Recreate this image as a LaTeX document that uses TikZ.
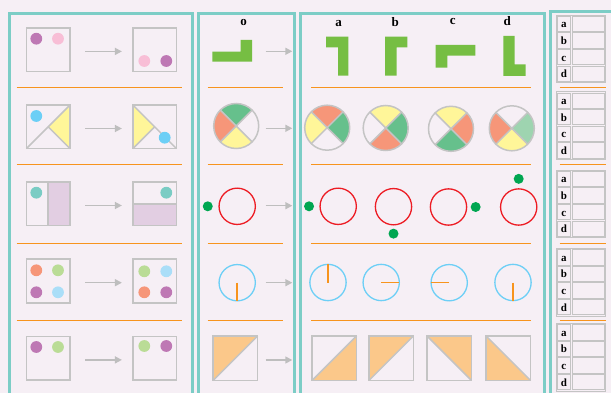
\documentclass[tikz,border=0pt]{standalone}
\usepackage{fontspec}
\setmainfont{Liberation Serif}
\usetikzlibrary{arrows.meta,positioning,backgrounds}
\definecolor{pagebg}{RGB}{246,239,245}
\definecolor{framet}{RGB}{124,205,198}
\definecolor{sepor}{RGB}{247,148,29}
\definecolor{boxgray}{RGB}{196,196,196}
\definecolor{arrgray}{RGB}{190,190,190}
\definecolor{dpurple}{RGB}{190,120,180}
\definecolor{dpink}{RGB}{248,190,214}
\definecolor{dblue}{RGB}{108,207,246}
\definecolor{dteal}{RGB}{122,204,196}
\definecolor{lav}{RGB}{226,206,226}
\definecolor{salmon}{RGB}{246,150,121}
\definecolor{lgreen}{RGB}{186,220,150}
\definecolor{lblue}{RGB}{170,222,248}
\definecolor{yel}{RGB}{255,246,153}
\definecolor{wgreen}{RGB}{102,192,140}
\definecolor{pgreen}{RGB}{158,212,176}
\definecolor{ringred}{RGB}{237,28,36}
\definecolor{dotgreen}{RGB}{0,166,81}
\definecolor{clockblue}{RGB}{109,207,246}
\definecolor{peach}{RGB}{251,200,138}
\definecolor{tetgreen}{RGB}{118,190,67}

\begin{document}
\begin{tikzpicture}[
  x=1pt, y=1pt,
  panel/.style={draw=framet, line width=3pt},
  sep/.style={draw=sepor, line width=1.3pt},
  box/.style={draw=boxgray, line width=1.5pt, minimum size=43.6pt,
    inner sep=0pt, outer sep=0pt},
  gline/.style={draw=boxgray, line width=1.5pt},
  arr/.style={-{Triangle[length=7pt,width=7pt]}, line width=1.5pt, arrgray},
  wheel/.style={circle, draw=boxgray, line width=1.5pt, minimum size=45pt,
    inner sep=0pt, outer sep=0pt},
  ring/.style={circle, draw=ringred, line width=1.3pt, minimum size=36.3pt,
    inner sep=0pt, outer sep=0pt},
  gdot/.style={circle, fill=dotgreen, minimum size=10pt, inner sep=0pt, outer sep=0pt},
  clock/.style={circle, draw=clockblue, line width=1.3pt, minimum size=36.3pt,
    inner sep=0pt, outer sep=0pt},
  hand/.style={draw=sepor, line width=1.5pt},
  tri/.style={box, minimum size=44.5pt},
  tet/.style={fill=tetgreen},
  lbl/.style={anchor=base, font=\bfseries\fontsize{13}{13}\selectfont},
  lcell/.style={draw=boxgray, line width=0.8pt, minimum width=13.6pt,
    minimum height=15.3pt, inner sep=0pt, outer sep=0pt,
    text height=8pt, text depth=0pt, font=\bfseries\fontsize{11}{11}\selectfont},
  vcell/.style={lcell, minimum width=32.2pt}
]
\begin{scope}[on background layer]
  \fill[pagebg] (0,0) rectangle (611,-393);
\end{scope}
\useasboundingbox (0,0) rectangle (611,-393);
\clip (0,0) rectangle (611,-393);

\draw[panel] (9.5,-13.3) rectangle (192.5,-400);
\draw[panel] (198,-13.3) rectangle (294.5,-400);
\draw[panel] (300.5,-13.3) rectangle (544,-400);
\draw[panel] (550,-12) rectangle (620,-400);
\foreach \y in {87.3,164.3,243.3,320.3}{
  \draw[sep] (16.7,-\y) -- (182,-\y);
  \draw[sep] (207.7,-\y) -- (282.7,-\y);
  \draw[sep] (311,-\y) -- (530.7,-\y);
  \draw[sep] (559.7,-\y) -- (606,-\y);
}

\foreach \rw/\y in {1/49.7,2/126.8,3/203.8,4/281,5/358.2}{
  \node[box] (in\rw) at (48.2,-\y) {};
  \node[box] (out\rw) at (154.7,-\y) {};
  \draw[arr, shorten <=15pt, shorten >=11pt]
    ([yshift=-1.7pt]in\rw.east) -- ([yshift=-1.7pt]out\rw.west);
}
\draw[gline] (in2.south west) -- (in2.north east) (in2.center) -- (in2.south east);
\draw[gline] (out2.north west) -- (out2.south east) (out2.center) -- (out2.south west);
\draw[gline] (in3.north) -- (in3.south);
\draw[gline] (out3.west) -- (out3.east);
\foreach \x/\y/\c in {36.3/38.7/dpurple, 58/38.7/dpink, 144.3/61/dpink, 166.3/61/dpurple,
    36.3/116/dblue, 164.7/137.7/dblue, 36.3/192.7/dteal, 166.3/192.7/dteal,
    36.3/270.3/salmon, 58/270.3/lgreen, 36.3/292.3/dpurple, 58/292.3/lblue,
    144.3/271.3/lgreen, 166.3/271.3/lblue, 144.3/292.3/salmon, 166.3/292.3/dpurple,
    36.3/347/dpurple, 58/347/lgreen, 144.3/346/lgreen, 166.3/346/dpurple}
  \fill[\c] (\x,-\y) circle (5.9pt);

\node[lbl] (lo) at (243.7,-25.3) {o};
\node[lbl] (la) at (338.7,-26.7) {a};
\node[lbl] (lb) at (395.3,-26.7) {b};
\node[lbl] (lc) at (452.7,-25) {c};
\node[lbl] (ld) at (507.3,-26) {d};
\fill[tet] (212.3,-51.7) -- (240.7,-51.7) -- (240.7,-40) -- (252,-40) -- (252,-61.7) -- (212.3,-61.7) -- cycle;
\fill[tet] (326,-36.7) -- (348.3,-36.7) -- (348.3,-75.7) -- (338,-75.7) -- (338,-47.3) -- (326,-47.3) -- cycle;
\fill[tet] (385,-36.7) -- (407.3,-36.7) -- (407.3,-47.3) -- (396.7,-47.3) -- (396.7,-75.7) -- (385,-75.7) -- cycle;
\fill[tet] (435.7,-45) -- (475.3,-45) -- (475.3,-55.7) -- (447.3,-55.7) -- (447.3,-67.7) -- (435.7,-67.7) -- cycle;
\fill[tet] (503.3,-36) -- (514.7,-36) -- (514.7,-64.3) -- (525.7,-64.3) -- (525.7,-76) -- (503.3,-76) -- cycle;

\foreach \rw/\y in {1/51.3,2/128.3,3/205.7,4/282.7,5/360}{
  \coordinate (s\rw) at (265.7,-\y);
  \coordinate (e\rw) at (292.3,-\y);
  \draw[arr] (s\rw) -- (e\rw);
}

\node[wheel] (wo) at (236.2,-126) {};
\node[wheel] (wa) at (327.2,-127.7) {};
\node[wheel] (wb) at (385.7,-128) {};
\node[wheel] (wc) at (451,-128.8) {};
\node[wheel] (wd) at (511.8,-128.3) {};
\foreach \n in {wo,wa,wb,wc,wd}
  \draw[gline] (\n.north east) -- (\n.south west) (\n.north west) -- (\n.south east);

\node[ring] (ro) at (237.2,-206.3) {};
\node[ring] (ra) at (338.2,-206.3) {};
\node[ring] (rb) at (393.5,-206.7) {};
\node[ring] (rc) at (448.5,-207) {};
\node[ring] (rd) at (518.7,-207) {};
\node[gdot, left=6.3pt of ro] (go) {};
\node[gdot, left=6pt of ra] (ga) {};
\node[gdot, below=3.8pt of rb] (gb) {};
\node[gdot, right=4pt of rc] (gc) {};
\node[gdot, above=5pt of rd] (gd) {};

\node[clock] (co) at (237.2,-282.7) {};
\node[clock] (ca) at (328,-282.5) {};
\node[clock] (cb) at (381.2,-282.5) {};
\node[clock] (cc) at (449.2,-282.7) {};
\node[clock] (cd) at (513,-282.5) {};
\draw[hand] (co.center) -- (co.south);
\draw[hand] (ca.center) -- (ca.north);
\draw[hand] (cb.center) -- (cb.east);
\draw[hand] (cc.center) -- (cc.west);
\draw[hand] (cd.center) -- (cd.south);

\node[tri] (to) at (235.3,-358.3) {};
\node[tri] (ta) at (334.3,-358.2) {};
\node[tri] (tb) at (391.2,-358.2) {};
\node[tri] (tc) at (449.2,-358.2) {};
\node[tri] (td) at (508.3,-358.2) {};
\draw[gline] (to.south west) -- (to.north east);
\draw[gline] (ta.south west) -- (ta.north east);
\draw[gline] (tb.south west) -- (tb.north east);
\draw[gline] (tc.north west) -- (tc.south east);
\draw[gline] (td.north west) -- (td.south east);

\foreach \ty [count=\tn] in {15,91.7,170,248.3,323.3}{
  \draw[boxgray, line width=0.8pt] (556,-\ty) rectangle (605.3,{-\ty-67.7});
  \foreach \lt [count=\rw] in {a,b,c,d}{
    \node[lcell] (k\tn\lt) at (563.9,{-\ty+7.65-16.6*\rw}) {\lt};
    \node[vcell, right=1.3pt of k\tn\lt] (v\tn\lt) {};
  }
}

\begin{scope}[on background layer]
  \fill[yel] (in2.center) -- (in2.north east) -- (in2.south east) -- cycle;
  \fill[yel] (out2.center) -- (out2.north west) -- (out2.south west) -- cycle;
  \fill[lav] (in3.north) rectangle (in3.south east);
  \fill[lav] (out3.west) rectangle (out3.south east);
  \foreach \n/\a/\c in {wo/90/wgreen, wo/180/salmon, wo/270/yel,
      wa/90/salmon, wa/180/yel, wa/0/wgreen,
      wb/90/yel, wb/0/wgreen, wb/270/salmon,
      wc/90/yel, wc/0/salmon, wc/270/wgreen,
      wd/180/salmon, wd/0/pgreen, wd/270/yel}
    \fill[\c] (\n.center) -- ++({\a-45}:22.5pt)
      arc[start angle={\a-45}, delta angle=90, radius=22.5pt] -- cycle;
  \fill[peach] (to.north west) -- (to.north east) -- (to.south west) -- cycle;
  \fill[peach] (ta.south east) -- (ta.north east) -- (ta.south west) -- cycle;
  \fill[peach] (tb.north west) -- (tb.north east) -- (tb.south west) -- cycle;
  \fill[peach] (tc.north west) -- (tc.north east) -- (tc.south east) -- cycle;
  \fill[peach] (td.north west) -- (td.south west) -- (td.south east) -- cycle;
\end{scope}
\end{tikzpicture}
\end{document}
